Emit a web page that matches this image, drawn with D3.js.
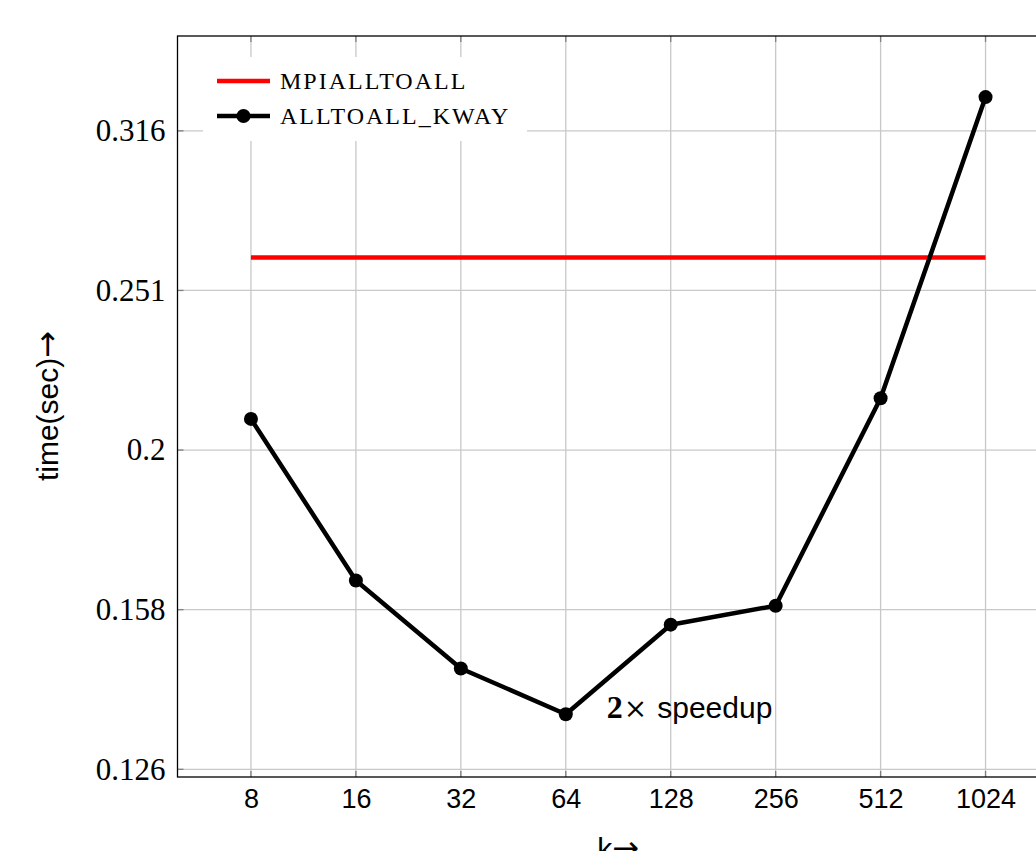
<!DOCTYPE html>
<html>
<head>
<meta charset="utf-8">
<script src="https://cdn.jsdelivr.net/npm/d3@7"></script>
<style>
	body { margin: 0; background: #fff; }
	svg { display: block; }
	.grid line { stroke: #c8c8c8; stroke-width: 1.3; }
	.ytick text { font-family: "Liberation Serif", serif; font-size: 31px; fill: #000; }
	.xtick text { font-family: "Liberation Sans", sans-serif; font-size: 27px; fill: #000; }
	.legend text { font-family: "Liberation Serif", serif; font-size: 24px; letter-spacing: 2px; fill: #000; }
	.label { font-family: "Liberation Sans", sans-serif; font-size: 30px; fill: #000; }
	.arrow { font-family: "DejaVu Sans", sans-serif; font-size: 32px; }
</style>
</head>
<body>
<svg id="chart" width="1036" height="851"></svg>
<script>
	// ---- data
	var kValues = [8, 16, 32, 64, 128, 256, 512, 1024];
	var kwayTimes = [0.2087, 0.1653, 0.1456, 0.1363, 0.1551, 0.1594, 0.2150, 0.3320];
	var mpiTime = [0.2634, 0.2634];
	var mpiK = [8, 1024];
	var yTickValues = [0.12589, 0.15849, 0.19953, 0.25119, 0.31623];
	var yTickLabels = ["0.126", "0.158", "0.2", "0.251", "0.316"];
	var seriesNames = ["MPIALLTOALL", "ALLTOALL_KWAY"];

(function(){
	var svg = d3.select("#chart");
	var pLeft = 177.5, pRight = 1059, pTop = 36, pBottom = 777;

	var x = d3.scaleLog().base(2)
		.domain([8 / Math.pow(2, 0.7), 1024 * Math.pow(2, 0.7)])
		.range([pLeft, pRight]);
	var y = d3.scaleLog()
		.domain([0.1245, 0.3626])
		.range([pBottom, pTop]);

	// grid
	var grid = svg.append("g").attr("class", "grid");
	grid.selectAll(".gx").data(kValues).enter().append("line")
		.attr("x1", function(d){ return x(d); }).attr("x2", function(d){ return x(d); })
		.attr("y1", pTop).attr("y2", pBottom);
	grid.selectAll(".gy").data(yTickValues).enter().append("line")
		.attr("y1", function(d){ return y(d); }).attr("y2", function(d){ return y(d); })
		.attr("x1", pLeft).attr("x2", pRight);

	// inner tick marks (pgfplots style)
	var tickLen = 6;
	var ticks = svg.append("g").attr("stroke", "#808080").attr("stroke-width", 1.3);
	kValues.forEach(function(k){
		ticks.append("line").attr("x1", x(k)).attr("x2", x(k)).attr("y1", pBottom).attr("y2", pBottom - tickLen);
		ticks.append("line").attr("x1", x(k)).attr("x2", x(k)).attr("y1", pTop).attr("y2", pTop + tickLen);
	});
	yTickValues.forEach(function(v){
		ticks.append("line").attr("y1", y(v)).attr("y2", y(v)).attr("x1", pLeft).attr("x2", pLeft + tickLen);
	});

	// tick labels via d3 axes, axis lines hidden
	svg.append("g").attr("class", "xtick")
		.attr("transform", "translate(0," + pBottom + ")")
		.call(d3.axisBottom(x).tickValues(kValues).tickFormat(d3.format("d")).tickSize(0).tickPadding(12));
	svg.append("g").attr("class", "ytick")
		.attr("transform", "translate(" + pLeft + ",0)")
		.call(d3.axisLeft(y).tickValues(yTickValues)
			.tickFormat(function(d, i){ return yTickLabels[i]; })
			.tickSize(0).tickPadding(12));
	svg.selectAll(".xtick .domain, .ytick .domain").remove();

	// frame
	svg.append("rect")
		.attr("x", pLeft).attr("y", pTop)
		.attr("width", pRight - pLeft).attr("height", pBottom - pTop)
		.attr("fill", "none").attr("stroke", "#000").attr("stroke-width", 1.3);

	// legend box (above the grid, under the series)
	var legend = svg.append("g").attr("class", "legend");
	legend.append("rect")
		.attr("x", 203).attr("y", 57).attr("width", 324).attr("height", 84)
		.attr("fill", "#fff");

	var line = d3.line()
		.x(function(d){ return x(d[0]); })
		.y(function(d){ return y(d[1]); });

	svg.append("path")
		.datum(d3.zip(mpiK, mpiTime))
		.attr("d", line)
		.attr("fill", "none").attr("stroke", "#ff0000").attr("stroke-width", 4.5);

	var kway = d3.zip(kValues, kwayTimes);
	svg.append("path")
		.datum(kway)
		.attr("d", line)
		.attr("fill", "none").attr("stroke", "#000").attr("stroke-width", 4.5)
		.attr("stroke-linejoin", "round");
	svg.selectAll(".pt").data(kway).enter().append("circle")
		.attr("cx", function(d){ return x(d[0]); })
		.attr("cy", function(d){ return y(d[1]); })
		.attr("r", 7).attr("fill", "#000");

	// legend entries
	var ly = [81, 116];
	legend.append("line").attr("x1", 217).attr("x2", 270).attr("y1", ly[0]).attr("y2", ly[0])
		.attr("stroke", "#ff0000").attr("stroke-width", 4.5);
	legend.append("line").attr("x1", 217).attr("x2", 270).attr("y1", ly[1]).attr("y2", ly[1])
		.attr("stroke", "#000").attr("stroke-width", 4.5);
	legend.append("circle").attr("cx", 243.5).attr("cy", ly[1]).attr("r", 7).attr("fill", "#000");
	legend.selectAll("text").data(seriesNames).enter().append("text")
		.attr("x", 280).attr("y", function(d, i){ return ly[i] + 8; })
		.text(function(d){ return d; });

	// annotation near the minimum
	var ann = svg.append("text")
		.attr("x", x(64) + 41).attr("y", y(kwayTimes[3]) + 4);
	ann.append("tspan").attr("font-family", "Liberation Serif, serif").attr("font-weight", "bold")
		.attr("font-size", 32).text("2");
	ann.append("tspan").attr("font-family", "DejaVu Serif, serif")
		.attr("font-size", 28).attr("dx", 1).text("×");
	ann.append("tspan").attr("class", "label").attr("font-size", 31).attr("dx", 10).text("speedup");

	// axis titles
	var yt = svg.append("text").attr("class", "label")
		.attr("text-anchor", "middle")
		.attr("transform", "translate(58,406) rotate(-90)");
	yt.append("tspan").text("time(sec)");
	yt.append("tspan").attr("class", "arrow").text("→");
	var xt = svg.append("text").attr("class", "label")
		.attr("text-anchor", "middle")
		.attr("x", (pLeft + pRight) / 2).attr("y", 859);
	xt.append("tspan").text("k");
	xt.append("tspan").attr("class", "arrow").text("→");
})();
</script>
</body>
</html>
